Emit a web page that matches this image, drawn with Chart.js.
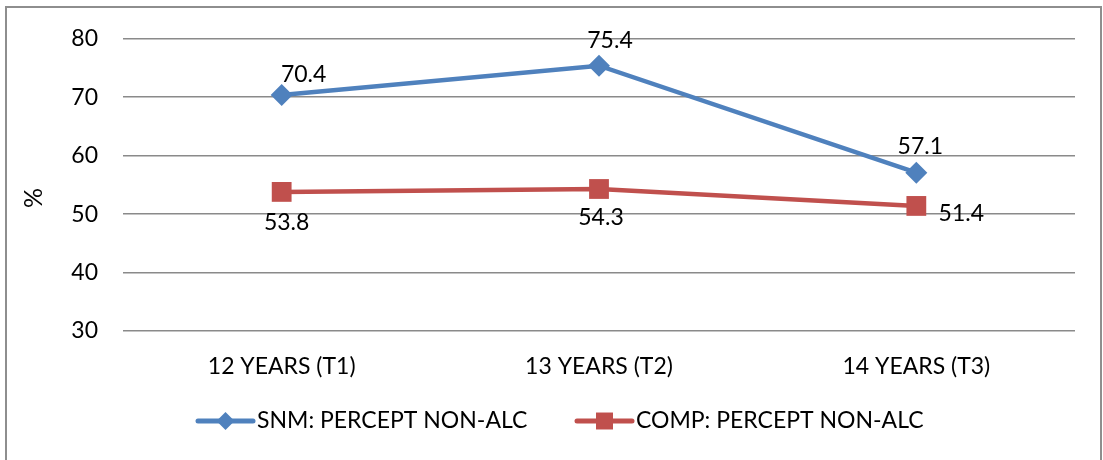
<!DOCTYPE html>
<html>
<head>
<meta charset="utf-8">
<script src="https://cdn.jsdelivr.net/npm/chart.js@4/dist/chart.umd.min.js"></script>
<style>
  html, body { margin: 0; padding: 0; background: #ffffff; overflow: hidden; }
  canvas { display: block; }
</style>
</head>
<body>
<canvas id="c" width="1103" height="460" style="width:1103px;height:460px"></canvas>
<script>
// Age groups (survey waves)
const categories = ['12 YEARS (T1)', '13 YEARS (T2)', '14 YEARS (T3)'];

// Percentage perceiving peers as non-drinkers
const snmValues = [70.4, 75.4, 57.1];
const compValues = [53.8, 54.3, 51.4];

const seriesNames = ['SNM: PERCEPT NON-ALC', 'COMP: PERCEPT NON-ALC'];

// Y axis range
const yMin = 30;
const yMax = 80;
const yStep = 10;

const BLUE = '#4F81BD';
const RED = '#C0504D';
const FONT = 'Lato, "Open Sans", sans-serif';

// Label placement relative to each point (pixels)
const labelOffsets = [
  [[22, -20], [11, -25], [4, -26]],
  [[5, 31], [2, 29], [45, 8]]
];

// Legend marker sizes
const legendMarkerRadius = [9, 12];

// Frame, rotated axis title, value labels and legend
const decorations = {
  id: 'decorations',
  beforeDraw(chart) {
    const ctx = chart.ctx;
    ctx.save();
    ctx.fillStyle = '#ffffff';
    ctx.fillRect(0, 0, chart.width, chart.height);
    ctx.strokeStyle = '#8e8e8e';
    ctx.lineWidth = 2;
    ctx.beginPath();
    ctx.moveTo(6, 470);
    ctx.lineTo(6, 7);
    ctx.lineTo(1101, 7);
    ctx.lineTo(1101, 470);
    ctx.stroke();
    ctx.restore();
  },
  afterDatasetsDraw(chart) {
    const ctx = chart.ctx;
    ctx.save();
    ctx.font = '23px ' + FONT;
    ctx.fillStyle = '#000000';
    ctx.textAlign = 'center';
    ctx.textBaseline = 'middle';
    chart.data.datasets.forEach((ds, di) => {
      const meta = chart.getDatasetMeta(di);
      meta.data.forEach((pt, i) => {
        const off = labelOffsets[di][i];
        ctx.fillText(ds.data[i].toFixed(1), pt.x + off[0], pt.y + off[1]);
      });
    });

    // rotated "%" title
    ctx.save();
    ctx.translate(34, 198);
    ctx.rotate(-Math.PI / 2);
    ctx.font = '25px ' + FONT;
    ctx.fillText('%', 0, 0);
    ctx.restore();

    // legend: line with marker, then name
    const legendY = 421;
    const starts = [198, 577];
    chart.data.datasets.forEach((ds, di) => {
      const x0 = starts[di];
      const x1 = x0 + 55;
      ctx.strokeStyle = ds.borderColor;
      ctx.lineWidth = 5;
      ctx.lineCap = 'round';
      ctx.beginPath();
      ctx.moveTo(x0, legendY);
      ctx.lineTo(x1, legendY);
      ctx.stroke();
      ctx.fillStyle = ds.borderColor;
      Chart.helpers.drawPoint(ctx, {
        pointStyle: ds.pointStyle,
        radius: legendMarkerRadius[di],
        rotation: 0,
        borderWidth: 0
      }, (x0 + x1) / 2, legendY);
      ctx.fillStyle = '#000000';
      ctx.textAlign = 'left';
      ctx.font = '23px ' + FONT;
      ctx.fillText(ds.label, x1 + 4, legendY);
    });
    ctx.restore();
  }
};

new Chart(document.getElementById('c'), {
  type: 'line',
  data: {
    labels: categories,
    datasets: [
      {
        label: seriesNames[0],
        data: snmValues,
        borderColor: BLUE,
        backgroundColor: BLUE,
        borderWidth: 4.5,
        pointStyle: 'rectRot',
        pointRadius: 11,
        pointHoverRadius: 11,
        pointBorderWidth: 0,
        tension: 0,
        clip: false
      },
      {
        label: seriesNames[1],
        data: compValues,
        borderColor: RED,
        backgroundColor: RED,
        borderWidth: 4.5,
        pointStyle: 'rect',
        pointRadius: 14,
        pointHoverRadius: 14,
        pointBorderWidth: 0,
        tension: 0,
        clip: false
      }
    ]
  },
  options: {
    responsive: false,
    animation: false,
    devicePixelRatio: 1,
    layout: { padding: { left: 0, right: 28, top: 32, bottom: 0 } },
    plugins: {
      legend: { display: false },
      tooltip: { enabled: false }
    },
    scales: {
      x: {
        offset: true,
        grid: { display: false, drawTicks: false },
        border: { display: false },
        ticks: {
          color: '#000000',
          font: { family: FONT, size: 23 },
          padding: 22,
          maxRotation: 0
        },
        afterFit(scale) { scale.height = 129; }
      },
      y: {
        min: yMin,
        max: yMax,
        grid: { color: '#8a8a8a', lineWidth: 1.5, drawTicks: false },
        border: { display: false },
        ticks: {
          stepSize: yStep,
          color: '#000000',
          font: { family: FONT, size: 23 },
          padding: 25
        },
        afterFit(scale) { scale.width = 123; }
      }
    }
  },
  plugins: [decorations]
});
</script>
</body>
</html>
